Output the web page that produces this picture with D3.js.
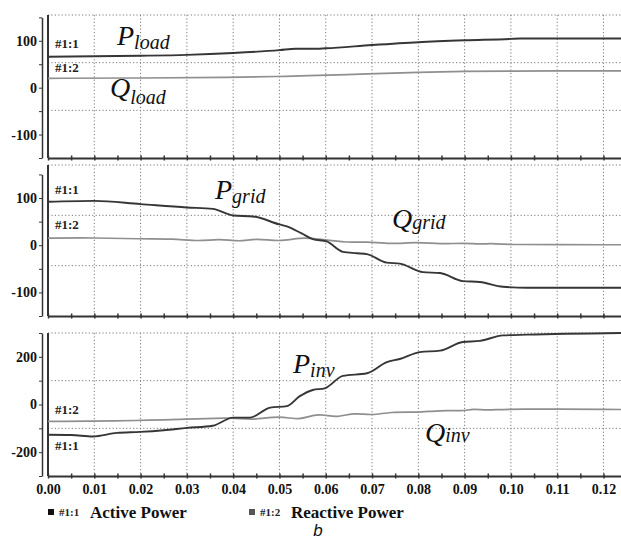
<!DOCTYPE html>
<html>
<head>
<meta charset="utf-8">
<script src="https://cdn.jsdelivr.net/npm/d3@7"></script>
<style>
  body { margin: 0; background: #fff; }
  svg { display: block; }
  .tick text { font-family: "Liberation Serif", "Times New Roman", serif; font-weight: bold; }
</style>
</head>
<body>
<div id="chart"></div>
<script>
// time axis ticks (s)
const xTicks = [0, 0.01, 0.02, 0.03, 0.04, 0.05, 0.06, 0.07, 0.08, 0.09, 0.10, 0.11, 0.12];

// load powers  [t, value]
const pLoad = [[0,66],[0.02,68],[0.03,70],[0.04,74],[0.05,80],[0.0535,83],[0.057,83],[0.06,84],[0.07,91],
  [0.08,97],[0.09,101],[0.1,104],[0.102,105],[0.124,105]];
const qLoad = [[0,20],[0.02,20.5],[0.04,22],[0.05,24],[0.0544,25],[0.07,29.5],[0.08,33],[0.09,35],
  [0.1,35.5],[0.11,36],[0.124,36]];

// grid powers
const pGrid = [[0,92],[0.01,94],[0.02,87],[0.03,80],[0.0356,77],[0.04,63],[0.0443,61],[0.05,44],[0.0516,40],
  [0.0548,25],[0.0572,13],[0.0602,8],[0.0637,-14],[0.0667,-17],[0.0689,-19],[0.0732,-37],[0.076,-39],
  [0.081,-57],[0.0847,-59],[0.0896,-76],[0.0933,-78],[0.0983,-88],[0.1035,-90],[0.124,-90]];
const qGrid = [[0,15],[0.01,16],[0.02,13],[0.027,14],[0.0328,8],[0.037,14],[0.0414,7],[0.045,15],
  [0.0501,7],[0.0544,17],[0.0587,13],[0.0645,5],[0.0689,8],[0.0739,2],[0.0797,7],[0.0847,2],
  [0.0896,5],[0.0933,2],[0.0959,4],[0.0983,1],[0.124,1]];

// inverter powers
const pInv = [[0,-127],[0.005,-128],[0.0097,-134],[0.0149,-119],[0.0199,-115],[0.025,-108],[0.03,-98],
  [0.0356,-89],[0.04,-55],[0.0436,-55],[0.048,-13],[0.0516,-7],[0.0544,35],[0.0572,61],[0.0598,68],
  [0.0637,120],[0.0689,131],[0.0732,178],[0.076,191],[0.0803,220],[0.0847,226],[0.0896,262],
  [0.0933,267],[0.0983,290],[0.1035,293],[0.124,300]];
const qInv = [[0,-71],[0.02,-68],[0.0328,-60],[0.04,-55],[0.0443,-66],[0.05,-47],[0.0544,-66],
  [0.0572,-43],[0.0598,-43],[0.0624,-55],[0.0659,-34],[0.07,-47],[0.0739,-30],[0.0797,-34],
  [0.0847,-24],[0.0896,-28],[0.0918,-18],[0.0948,-25],[0.0996,-18],[0.124,-21]];

const colActive = "#363636";
const colReactive = "#8f8f8f";

const width = 621, height = 541;
const svg = d3.select("#chart").append("svg")
  .attr("width", width).attr("height", height);

const x = d3.scaleLinear().domain([0, 0.124]).range([48, 622]);

const panels = [
  { top: 15, bottom: 158, domain: [-150, 155], axis: [-150, 150], step: 50, labels: [100, 0, -100],
    p: pLoad, q: qLoad, name: "load",
    pLab: [117, 45, 4], qLab: [110, 97, 7], tagP: 48, tagQ: 72 },
  { top: 165, bottom: 316, domain: [-150, 170], axis: [-150, 150], step: 50, labels: [100, 0, -100],
    p: pGrid, q: qGrid, name: "grid",
    pLab: [215, 199, 4], qLab: [392, 228, 1], tagP: 194, tagQ: 229 },
  { top: 333, bottom: 476, domain: [-300, 300], axis: [-300, 300], step: 100, labels: [200, 0, -200],
    p: pInv, q: qInv, name: "inv",
    pLab: [293, 373, 4], qLab: [425, 442, 0], tagP: 450, tagQ: 414 }
];

const lineP = d3.line().curve(d3.curveMonotoneX);
const lineQ = d3.line().curve(d3.curveBasis);

panels.forEach((pn, i) => {
  const y = d3.scaleLinear().domain(pn.domain).range([pn.bottom, pn.top]);
  const g = svg.append("g");

  // dotted grid
  const rows = [0, 1, 2].map(k => pn.top + k * (pn.bottom - pn.top) / 3);
  g.selectAll(".hg").data(rows).enter().append("line")
    .attr("x1", 48).attr("x2", width).attr("y1", d => d).attr("y2", d => d)
    .attr("stroke", "#7a7a7a").attr("stroke-width", 1).attr("stroke-dasharray", "1.2,2.2");
  g.selectAll(".vg").data(xTicks.slice(1)).enter().append("line")
    .attr("x1", d => x(d)).attr("x2", d => x(d)).attr("y1", pn.top).attr("y2", pn.bottom)
    .attr("stroke", "#7a7a7a").attr("stroke-width", 1).attr("stroke-dasharray", "1.2,2.2");

  // left frame
  g.append("line").attr("x1", 48).attr("x2", 48).attr("y1", pn.top).attr("y2", pn.bottom)
    .attr("stroke", "#333").attr("stroke-width", 2);

  // y axis
  const ya = y.copy().domain(pn.axis).range(pn.axis.map(y));
  const yAxis = g.append("g").attr("transform", "translate(42,0)")
    .call(d3.axisLeft(ya)
      .tickValues(d3.range(pn.axis[0], pn.axis[1] + 1, pn.step))
      .tickSize(3).tickSizeOuter(0).tickPadding(2)
      .tickFormat(d => pn.labels.includes(d) ? String(d) : ""));
  yAxis.select(".domain").attr("stroke", "#333").attr("stroke-width", 1.5);
  yAxis.selectAll(".tick line").attr("stroke", "#333");
  yAxis.selectAll(".tick text").attr("font-size", 14).attr("fill", "#111");

  // bottom axis
  const minor = d3.range(0, 0.1241, 0.005);
  const xAxis = g.append("g").attr("transform", `translate(0,${pn.bottom})`)
    .call(d3.axisBottom(x).tickValues(minor).tickSize(0).tickSizeOuter(0)
      .tickFormat(d => (i === 2 && Math.abs(d * 100 - Math.round(d * 100)) < 1e-6) ? d3.format(".2f")(d) : ""));
  xAxis.select(".domain").attr("stroke", "#333").attr("stroke-width", 2);
  xAxis.selectAll(".tick line").attr("y1", -2.5).attr("y2", 2.5).attr("stroke", "#333").attr("stroke-width", 1.5);
  xAxis.selectAll(".tick text").attr("y", 8).attr("font-size", 14).attr("fill", "#111");

  // curves
  g.append("path").datum(pn.q)
    .attr("d", lineQ.x(d => x(d[0])).y(d => y(d[1])))
    .attr("fill", "none").attr("stroke", colReactive).attr("stroke-width", 1.7);
  g.append("path").datum(pn.p)
    .attr("d", lineP.x(d => x(d[0])).y(d => y(d[1])))
    .attr("fill", "none").attr("stroke", colActive).attr("stroke-width", 1.9);

  // tags
  [["#1:1", pn.tagP], ["#1:2", pn.tagQ]].forEach(([t, yy]) => {
    g.append("text").attr("x", 55).attr("y", yy).text(t)
      .attr("font-family", "Liberation Serif, serif").attr("font-weight", "bold")
      .attr("font-size", 13).attr("fill", "#222");
  });

  // math labels
  [["P", pn.pLab], ["Q", pn.qLab]].forEach(([sym, pos]) => {
    const t = g.append("text").attr("x", pos[0]).attr("y", pos[1])
      .attr("font-family", "Liberation Serif, serif").attr("font-style", "italic").attr("fill", "#111");
    t.append("tspan").attr("font-size", 28).text(sym);
    t.append("tspan").attr("font-size", 20).attr("dy", pos[2]).text(pn.name);
  });
});

// legend
const legend = [["#1:1", "Active Power", "#111", 48], ["#1:2", "Reactive Power", "#555", 249]];
legend.forEach(([tag, label, c, lx]) => {
  svg.append("rect").attr("x", lx).attr("y", 509).attr("width", 6).attr("height", 6).attr("fill", c);
  svg.append("text").attr("x", lx + 11).attr("y", 516)
    .attr("font-family", "Liberation Serif, serif").attr("font-weight", "bold").attr("font-size", 11)
    .attr("fill", "#222").text(tag);
  svg.append("text").attr("x", lx + 42).attr("y", 518)
    .attr("font-family", "Liberation Serif, serif").attr("font-weight", "bold").attr("font-size", 17)
    .attr("fill", "#111").text(label);
});

svg.append("text").attr("x", 318).attr("y", 536).attr("text-anchor", "middle")
  .attr("font-family", "Liberation Sans, Arial, sans-serif").attr("font-style", "italic")
  .attr("font-size", 17).attr("fill", "#111").text("b");
</script>
</body>
</html>
